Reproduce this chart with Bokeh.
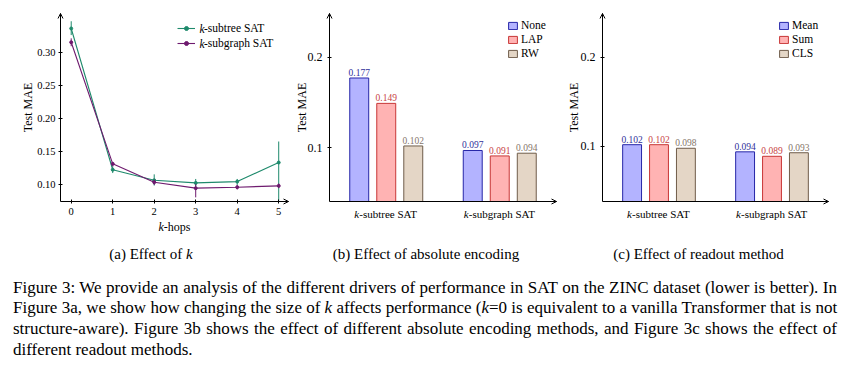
import math
from bokeh.plotting import figure
from bokeh.models import (ColumnDataSource, Range1d, FixedTicker, Label, Legend, LegendItem,
                          Arrow, OpenHead, Div, NumeralTickFormatter)
from bokeh.layouts import row, column
from bokeh.transform import dodge
from bokeh.embed import file_html
from bokeh.resources import INLINE
from bokeh.core.properties import value

# ---------------- data ----------------
k_hops = [0, 1, 2, 3, 4, 5]
subtree_mae = [0.337, 0.122, 0.106, 0.102, 0.104, 0.133]
subtree_lo = [0.327, 0.117, 0.098, 0.097, 0.099, 0.075]
subtree_hi = [0.348, 0.127, 0.115, 0.108, 0.108, 0.165]
subgraph_mae = [0.316, 0.131, 0.103, 0.094, 0.0955, 0.0975]
subgraph_lo = [0.310, 0.127, 0.099, 0.080, 0.092, 0.094]
subgraph_hi = [0.322, 0.134, 0.107, 0.100, 0.099, 0.101]
a_ticks = [0.10, 0.15, 0.20, 0.25, 0.30]

group_pos = [0, 1]
group_suffix = ["-subtree SAT", "-subgraph SAT"]
enc_methods = ["None", "LAP", "RW"]
enc_none = [0.177, 0.097]
enc_lap = [0.149, 0.091]
enc_rw = [0.102, 0.094]
readout_methods = ["Mean", "Sum", "CLS"]
ro_mean = [0.102, 0.094]
ro_sum = [0.102, 0.089]
ro_cls = [0.098, 0.093]
bar_ticks = [0.1, 0.2]

# ---------------- style ----------------
SERIF = "Liberation Serif"
TEAL = "#1f8a6c"
PURPLE = "#6e1a6e"
FILLS = ["#b3b3ff", "#ffb3b3", "#e4d6c6"]
EDGES = ["#2626a8", "#c83636", "#6f5c4a"]
TXT = ["#30309a", "#c84444", "#86766a"]
H = 276          # figure height (frame fills the whole figure)
AX_TOP, AX_BOT = 13, 201   # pixel rows of axis box top / bottom


def lin(p0, d0, p1, d1, p):
    return d0 + (p - p0) * (d1 - d0) / (p1 - p0)


def base_fig(width, fig_left, ax_left, ax_right, xlim, ylim):
    """Frame covers the whole figure; axes are drawn at fixed locations inside it."""
    x0, x1 = xlim
    y0, y1 = ylim
    xr = Range1d(lin(ax_left, x0, ax_right, x1, fig_left),
                 lin(ax_left, x0, ax_right, x1, fig_left + width))
    yr = Range1d(lin(AX_BOT, y0, AX_TOP, y1, H), lin(AX_BOT, y0, AX_TOP, y1, 0))
    p = figure(width=width, height=H, x_range=xr, y_range=yr, output_backend="svg",
               toolbar_location=None, min_border=0, min_border_left=0, min_border_right=0,
               min_border_top=0, min_border_bottom=0)
    p.outline_line_color = None
    p.xgrid.grid_line_color = None
    p.ygrid.grid_line_color = None
    p.background_fill_color = None
    p.border_fill_color = None
    p.xaxis.fixed_location = y0
    p.yaxis.fixed_location = x0
    p.xaxis.bounds = (x0, x1)
    p.yaxis.bounds = (y0, y1)
    for ax in (p.xaxis[0], p.yaxis[0]):
        ax.axis_line_color = "black"
        ax.major_tick_line_color = "black"
        ax.minor_tick_line_color = None
        ax.major_label_text_font = SERIF
        ax.major_label_text_color = "black"
        ax.major_tick_in = 2
        ax.major_tick_out = 2
    head = dict(size=5, line_color="black", line_width=1)
    p.add_layout(Arrow(end=OpenHead(**head), x_start=x0, y_start=y0,
                       x_end=x1, y_end=y0, line_alpha=0))
    p.add_layout(Arrow(end=OpenHead(**head), x_start=x0, y_start=y0,
                       x_end=x0, y_end=y1, line_alpha=0))
    return p


def ylabel(p, xlim, ylim, off):
    p.add_layout(Label(x=xlim[0], y=(ylim[0] + ylim[1]) / 2, x_offset=off, text="Test MAE",
                       angle=math.pi / 2, text_align="center", text_baseline="middle",
                       text_font=SERIF, text_font_size="12px", text_color="black"))


def screen_text(p, x, y, txt, align="left", style="normal", size="15px"):
    p.add_layout(Label(x=x, y=y, x_units="screen", y_units="screen", text=txt,
                       text_align=align, text_baseline="middle", text_font=SERIF,
                       text_font_style=style, text_font_size=size, text_color="black"))


# ---------------- (a) ----------------
A_X, A_Y = (-0.258, 5.236), (0.0737, 0.3598)
pa = base_fig(292, 0, 60, 288, A_X, A_Y)
pa.xaxis.ticker = FixedTicker(ticks=k_hops)
pa.yaxis.ticker = FixedTicker(ticks=a_ticks)
pa.yaxis.formatter = NumeralTickFormatter(format="0.00")
pa.xaxis.major_label_text_font_size = "10.5px"
pa.yaxis.major_label_text_font_size = "10.5px"
pa.yaxis.major_label_standoff = 3
pa.xaxis.major_label_standoff = 4

src_a = ColumnDataSource(dict(
    k=k_hops, st=subtree_mae, st_lo=subtree_lo, st_hi=subtree_hi,
    sg=subgraph_mae, sg_lo=subgraph_lo, sg_hi=subgraph_hi,
))
pa.segment("k", "st_lo", "k", "st_hi", source=src_a, line_color=TEAL, line_width=1)
r1 = pa.line("k", "st", source=src_a, line_color=TEAL, line_width=1.1)
r1m = pa.scatter("k", "st", source=src_a, size=3, color=TEAL)
pa.segment("k", "sg_lo", "k", "sg_hi", source=src_a, line_color=PURPLE, line_width=1)
r2 = pa.line("k", "sg", source=src_a, line_color=PURPLE, line_width=1.1)
r2m = pa.scatter("k", "sg", source=src_a, size=3, color=PURPLE)

leg_a = Legend(items=[LegendItem(label=group_suffix[0], renderers=[r1, r1m]),
                      LegendItem(label=group_suffix[1], renderers=[r2, r2m])],
               location=(177, H - 50.5), padding=0, margin=0, border_line_color=None,
               background_fill_alpha=0, glyph_width=18, glyph_height=10, label_standoff=9,
               label_height=15, spacing=0, label_text_font=SERIF,
               label_text_font_size="11.5px", label_text_color="black")
pa.add_layout(leg_a)
for yy in (28, 43):
    screen_text(pa, 199, H - yy, "k", style="italic", size="11.5px")

ylabel(pa, A_X, A_Y, -33)
screen_text(pa, 163.3, H - 226.7, "k", align="right", style="italic", size="12px")
screen_text(pa, 163.3, H - 226.7, "-hops", align="left", size="12px")
screen_text(pa, 185.5, H - 253, "(a) Effect of ", align="right")
screen_text(pa, 185.5, H - 253, "k", align="left", style="italic")


# ---------------- bar charts ----------------
def bar_fig(width, fig_left, ax_left, ax_right, ylim, methods, vals, caption, cap_x,
            ylab_off):
    xlim = (-0.5, 1.5)
    p = base_fig(width, fig_left, ax_left, ax_right, xlim, ylim)
    p.xaxis.ticker = FixedTicker(ticks=[])
    p.xaxis.major_tick_line_color = None
    p.yaxis.ticker = FixedTicker(ticks=bar_ticks)
    p.yaxis.formatter = NumeralTickFormatter(format="0.0")
    p.yaxis.major_label_text_font_size = "12px"
    p.yaxis.major_label_standoff = 5
    data = dict(x=group_pos)
    for i, v in enumerate(vals):
        data[f"v{i}"] = v
        data[f"t{i}"] = [f"{u:.3f}" for u in v]
    src = ColumnDataSource(data)
    offs = [-0.238, 0.0, 0.238]
    items = []
    for i, m in enumerate(methods):
        r = p.vbar(x=dodge("x", offs[i], range=p.x_range), top=f"v{i}", bottom=ylim[0],
                   width=0.167, source=src, fill_color=FILLS[i], line_color=EDGES[i],
                   line_width=1)
        p.text(x=dodge("x", offs[i], range=p.x_range), y=f"v{i}", text=f"t{i}", source=src,
               text_align="center", text_baseline="bottom", y_offset=-2,
               text_font=value(SERIF), text_font_size="9.5px", text_color=TXT[i])
        items.append(LegendItem(label=m, renderers=[r]))
    leg = Legend(items=items, location=(cap_x[1], H - 60), padding=0, margin=0,
                 border_line_color=None, background_fill_alpha=0, glyph_width=11,
                 glyph_height=9, label_standoff=3, label_height=14, spacing=0,
                 label_text_font=SERIF, label_text_font_size="11.5px",
                 label_text_color="black")
    p.add_layout(leg)
    ylabel(p, xlim, ylim, ylab_off)
    offs_k = [-27, -31]
    for gx, suf, ok in zip(group_pos, group_suffix, offs_k):
        p.add_layout(Label(x=gx, y=ylim[0], x_offset=ok, y_offset=-12, text="k",
                           text_align="right", text_baseline="middle", text_font=SERIF,
                           text_font_style="italic", text_font_size="11px", text_color="black"))
        p.add_layout(Label(x=gx, y=ylim[0], x_offset=ok, y_offset=-12, text=suf,
                           text_align="left", text_baseline="middle", text_font=SERIF,
                           text_font_size="11px", text_color="black"))
    screen_text(p, cap_x[0], H - 253, caption, align="center")
    return p


pb = bar_fig(273, 292, 329, 556, (0.0407, 0.2482), enc_methods, [enc_none, enc_lap, enc_rw],
             "(b) Effect of absolute encoding", (133.5, 215), -27.3)
pc = bar_fig(280, 565, 602, 828, (0.0384, 0.2489), readout_methods, [ro_mean, ro_sum, ro_cls],
             "(c) Effect of readout method", (133, 213), -28.7)

# ---------------- caption ----------------
lines = [
    "Figure 3: We provide an analysis of the different drivers of performance in SAT on the ZINC dataset (lower is better). In",
    "Figure 3a, we show how changing the size of <i>k</i> affects performance (<i>k</i>=0 is equivalent to a vanilla Transformer that is not",
    "structure-aware). Figure 3b shows the effect of different absolute encoding methods, and Figure 3c shows the effect of",
    "different readout methods.",
]
inner = "".join(
    f'<div style="text-align:justify;text-align-last:{"justify" if i < 3 else "left"};'
    f'white-space:nowrap;">{ln}</div>'
    for i, ln in enumerate(lines))
html = (f'<div style="width:824px;margin-left:13px;margin-top:1.5px;font-family:\'Liberation Serif\',\'Times New Roman\',serif;'
        f'font-size:17px;line-height:20.7px;color:#000;">{inner}</div>')
cap = Div(text=html, width=845, height=90, margin=0)

layout = column(row(pa, pb, pc, spacing=0), cap, spacing=0)
open("out.html", "w").write(file_html(layout, INLINE))
